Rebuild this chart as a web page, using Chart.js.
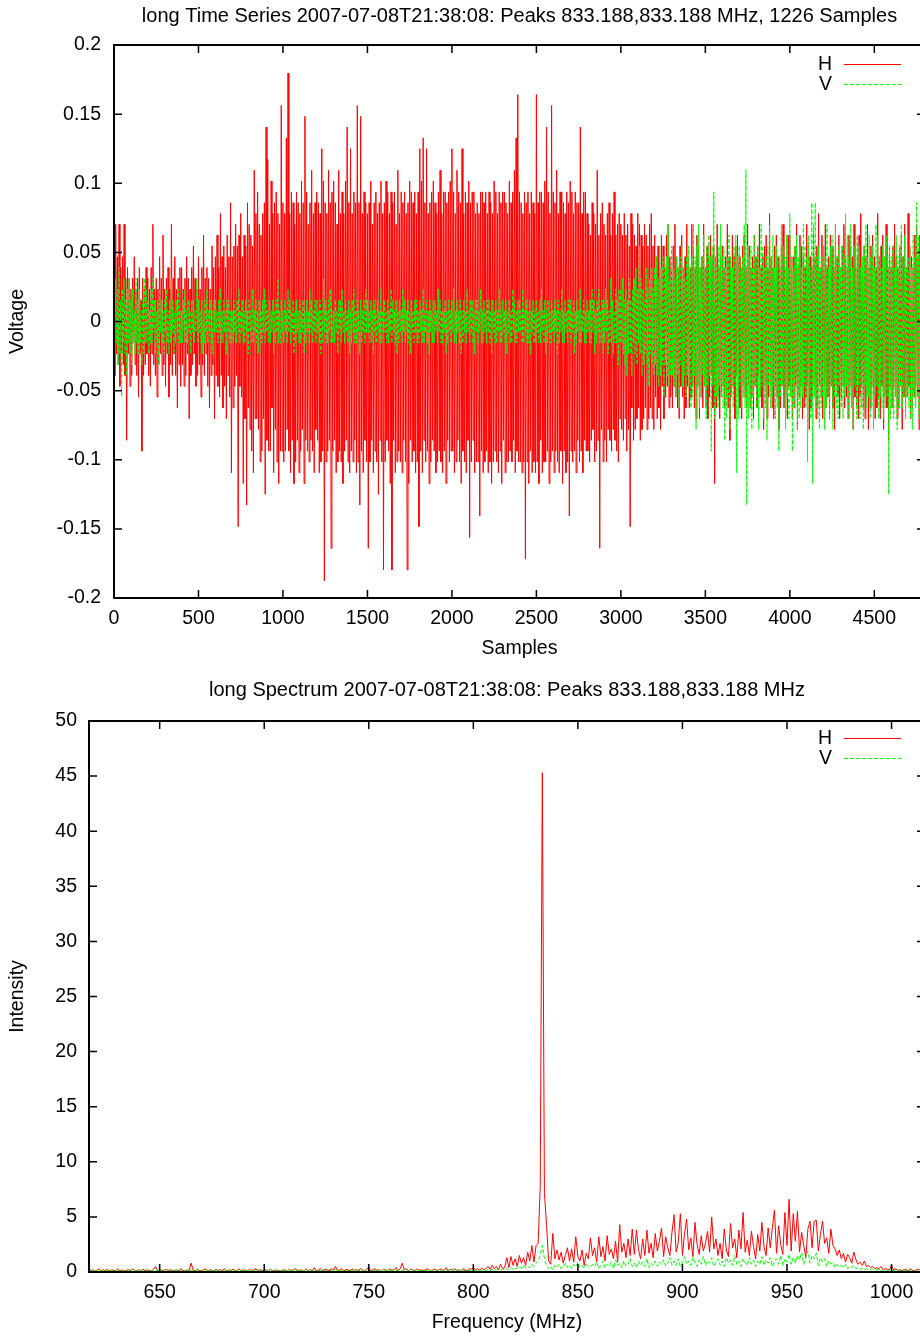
<!DOCTYPE html>
<html>
<head>
<meta charset="utf-8">
<script src="https://cdn.jsdelivr.net/npm/chart.js@4.4.1/dist/chart.umd.min.js"></script>
<style>
  html, body { margin: 0; padding: 0; background: #fff; overflow: hidden; }
  canvas { display: block; }
</style>
</head>
<body>
<canvas id="timeChart" width="926" height="665"></canvas>
<canvas id="specChart" width="926" height="672"></canvas>
<script>
// ---- time series (ADC counts, 1 count = 1/128 V), one value every 5 samples ----
var sampleStep = 5;
var voltsPerCount = 1 / 128;
var hCounts = [
  6,-5,9,-3,6,-4,9,-6,5,-3, 6,-4,9,-5,4,-11,5,-3,4,-6, 3,-5,4,-2,6,-4,3,-5,4,-7, 5,-3,2,-12,4,-5,3,-4,5,-3,
  4,-5,3,-6,5,-3,9,-4,3,-5, 4,-7,3,-4,6,-3,4,-5,8,-4, 3,-6,4,-3,5,-7,3,-4,9,-5, 4,-3,6,-5,3,-8,4,-4,5,-6,
  5,-4,3,-6,4,-5,6,-3,4,-9, 3,-5,5,-4,7,-3,4,-6,3,-5, 6,-4,3,-7,5,-4,8,-5,4,-3, 5,-6,4,-8,3,-5,7,-4,5,-9,
  6,-5,8,-6,5,-7,10,-5,6,-8, 7,-6,5,-9,8,-5,6,-7,11,-14, 6,-8,7,-6,9,-5,7,-19,8,-6, 10,-7,6,-15,8,-9,7,-17,11,-8,
  9,-10,8,-12,7,-14,14,-9,10,-9, 12,-10,9,-13,8,-12,10,-9,11,-16, 18,-11,15,-12,9,-12,13,-8,10,-14, 11,-10,12,-13,10,-15,9,-12,20,-12,
  11,-13,10,-12,17,-10,23,-12,10,-14, 12,-11,11,-15,9,-13,12,-11,11,-14, 10,-12,13,-10,11,-15,19,-11,12,-12, 9,-13,11,-11,14,-12,10,-14,11,-10,
  12,-11,11,-14,10,-13,16,-12,13,-24, 11,-13,10,-12,14,-11,11,-21,12,-12, 13,-11,11,-14,9,-13,14,-12,10,-13, 12,-15,10,-12,13,-11,18,-13,11,-14,
  16,-12,10,-13,12,-11,11,-14,20,-13, 11,-17,19,-12,10,-14,12,-11,11,-13, 10,-21,11,-13,13,-11,9,-14,11,-12, 12,-13,10,-16,11,-11,13,-13,10,-23,
  11,-13,13,-11,12,-12,10,-15,12,-23, 11,-11,12,-14,9,-13,14,-12,10,-13, 12,-14,11,-11,12,-13,10,-23,11,-15, 13,-11,12,-13,11,-12,12,-14,10,-13,
  12,-19,16,-12,13,-14,17,-11,11,-13, 16,-12,10,-15,11,-13,12,-11,13,-12, 11,-14,10,-13,12,-12,14,-13,10,-14, 12,-12,12,-15,11,-11,12,-13,13,-12,
  16,-12,12,-14,10,-13,14,-11,12,-13, 11,-15,16,-12,10,-13,12,-14,11,-11, 13,-20,11,-13,12,-11,12,-14,10,-13, 11,-13,10,-18,12,-12,12,-14,11,-13,
  12,-12,10,-14,12,-13,11,-15,10,-13, 13,-12,12,-13,10,-14,12,-12,11,-15, 12,-11,12,-14,11,-13,10,-13,13,-12, 11,-13,12,-11,14,-14,17,-12,21,-13,
  12,-13,11,-14,10,-13,12,-22,11,-13, 12,-15,10,-12,12,-14,11,-13,10,-14, 21,-13,11,-15,12,-11,12,-14,11,-13, 13,-13,18,-12,12,-15,10,-13,20,-12,
  12,-14,11,-12,14,-13,10,-14,12,-12, 12,-15,11,-12,10,-14,12,-13,11,-18, 13,-12,12,-13,10,-12,12,-14,11,-11, 11,-13,18,-12,10,-14,12,-11,12,-12,
  10,-12,9,-13,8,-11,11,-10,10,-13, 9,-12,14,-11,8,-21,10,-10,11,-13, 9,-11,8,-13,10,-10,11,-11,8,-12, 10,-10,12,-11,8,-12,9,-13,10,-9,
  9,-10,8,-11,10,-9,8,-12,9,-10, 7,-19,10,-8,9,-11,8,-10,7,-9, 10,-8,9,-11,8,-10,7,-9,9,-8, 8,-10,7,-9,9,-8,10,-9,7,-10,
  8,-7,6,-9,7,-8,5,-10,8,-6, 7,-9,5,-7,8,-6,9,-8,6,-7, 5,-8,7,-6,9,-7,6,-8,5,-9, 7,-6,8,-7,5,-9,6,-8,9,-6,
  6,-8,5,-7,9,-6,7,-8,5,-9, 8,-6,7,-9,5,-7,6,-8,9,-6, 5,-8,7,-9,6,-7,8,-5,6,-8, 7,-15,6,-8,9,-7,5,-9,6,-7,
  7,-6,5,-8,6,-7,9,-8,6,-11, 5,-7,8,-6,6,-9,7,-5,8,-7, 6,-8,5,-9,7,-6,8,-7,5,-8, 9,-6,7,-8,5,-7,6,-9,8,-6,
  6,-8,7,-5,9,-7,5,-8,6,-10, 7,-6,8,-9,5,-7,10,-6,6,-8, 5,-9,7,-6,8,-7,6,-10,5,-8, 7,-6,9,-8,5,-7,6,-9,8,-6,
  8,-7,5,-9,6,-8,7,-6,9,-10, 5,-7,8,-6,7,-9,6,-8,5,-7, 9,-6,7,-10,6,-8,5,-7,8,-6, 6,-9,7,-8,10,-6,5,-7,8,-9,
  7,-6,9,-8,5,-7,6,-9,8,-6, 7,-8,5,-10,9,-6,6,-7,8,-9, 5,-7,7,-6,9,-8,6,-7,5,-9, 8,-6,7,-8,6,-10,9,-7,5,-8,
  6,-9,8,-7,10,-6,5,-8,7,-9, 6,-7,9,-10,5,-8,7,-6,8,-7, 6,-9,5,-8,10,-7,6,-9,7,-6, 8,-10,6,-7,9,-8,5,-11,7,-6,
  5,-8,7,-6,9,-7,6,-9,5,-8, 7,-6,8,-10,6,-7,9,-8,5,-7, 10,-6,7,-9,6,-8,5,-7,8,-6, 9,-7,6,-10,8,-11,7,-6,9,-8
];
var vCounts = [
  2,-3,4,-2,3,-4,5,-3,2,-7, 3,-2,4,-3,2,-5,3,-2,4,-3, 2,-4,3,-2,1,-3,4,-2,2,-3, 3,-2,1,-4,2,-3,4,-2,3,-2,
  2,-3,1,-2,3,-2,4,-1,2,-3, 1,-2,2,-4,3,-1,2,-2,1,-3, 2,-1,3,-2,1,-3,2,-2,4,-1, 2,-3,1,-2,2,-1,3,-2,1,-2,
  1,-2,2,-1,3,-2,1,-2,2,-1, 1,-3,2,-1,2,-2,1,-1,4,-2, 2,-1,1,-2,2,-3,1,-2,2,-1, 3,-2,1,-1,2,-2,1,-3,2,-1,
  2,-1,1,-2,2,-1,3,-2,1,-2, 2,-1,1,-3,2,-1,2,-2,1,-2, 1,-2,2,-1,1,-2,2,-1,3,-2, 1,-1,2,-2,1,-2,2,-1,1,-3,
  2,-1,1,-2,3,-2,1,-1,2,-2, 1,-3,2,-1,1,-2,2,-1,3,-2, 2,-1,1,-2,2,-2,1,-1,2,-3, 1,-2,2,-1,4,-2,1,-2,2,-1,
  1,-2,2,-1,1,-2,3,-1,2,-2, 1,-1,2,-3,1,-2,2,-1,1,-2, 2,-2,1,-1,2,-3,1,-2,2,-1, 1,-2,3,-1,2,-2,1,-1,2,-2,
  2,-1,1,-2,2,-3,1,-2,4,-1, 2,-2,1,-2,2,-1,3,-2,1,-2, 1,-2,2,-1,1,-3,2,-1,2,-2, 3,-1,1,-2,2,-1,1,-2,2,-3,
  1,-2,2,-1,3,-2,1,-2,2,-1, 1,-3,2,-2,1,-1,2,-2,3,-1, 2,-1,1,-2,2,-2,1,-3,2,-1, 1,-2,2,-1,1,-2,3,-2,1,-1,
  2,-1,1,-2,2,-2,1,-1,3,-2, 2,-1,1,-2,2,-3,1,-2,2,-1, 1,-2,3,-1,2,-2,1,-1,2,-2, 1,-3,2,-1,1,-2,2,-1,2,-2,
  1,-2,2,-1,1,-2,3,-2,1,-1, 2,-2,1,-3,2,-1,1,-2,2,-2, 2,-1,1,-2,3,-1,2,-2,1,-2, 1,-1,2,-3,1,-2,2,-1,1,-2,
  2,-1,3,-2,1,-2,2,-1,1,-2, 2,-3,1,-2,2,-1,1,-2,3,-1, 1,-2,2,-1,2,-2,1,-3,2,-1, 2,-2,1,-1,3,-2,1,-2,2,-1,
  1,-2,2,-1,2,-2,1,-3,2,-1, 1,-2,2,-2,1,-1,3,-2,1,-2, 2,-1,1,-2,2,-3,1,-1,2,-2, 1,-2,3,-1,2,-2,1,-2,2,-1,
  2,-1,1,-2,3,-2,1,-1,2,-2, 1,-2,2,-3,1,-1,2,-2,1,-2, 2,-1,1,-2,2,-2,3,-1,1,-2, 2,-3,1,-2,2,-1,1,-2,2,-1,
  1,-2,2,-1,1,-3,2,-2,1,-1, 3,-2,1,-2,2,-1,1,-2,2,-1, 2,-2,1,-1,2,-3,1,-2,2,-1, 1,-2,3,-2,1,-1,2,-2,1,-2,
  2,-1,1,-2,2,-2,3,-1,2,-3, 1,-2,2,-1,3,-2,1,-2,2,-3, 2,-2,3,-1,2,-3,1,-2,4,-2, 2,-3,1,-2,3,-2,2,-4,3,-2,
  3,-2,4,-3,2,-4,3,-5,2,-3, 4,-3,2,-5,3,-2,4,-3,5,-4, 3,-2,7,-3,4,-5,3,-4,2,-3, 5,-4,3,-6,4,-3,5,-4,3,-5,
  5,-4,6,-5,4,-6,7,-5,5,-4, 6,-7,5,-4,6,-5,9,-6,4,-5, 7,-5,5,-6,4,-7,6,-5,5,-8, 6,-4,7,-6,5,-5,4,-7,6,-5,
  7,-6,5,-8,6,-7,9,-5,6,-10, 7,-6,9,-8,5,-7,6,-5,8,-6, 5,-9,7,-6,8,-5,6,-12,7,-6, 12,-9,6,-7,5,-8,7,-6,9,-7,
  6,-8,7,-11,5,-9,6,-7,8,-10, 6,-7,5,-8,7,-6,8,-14,6,-9, 7,-6,5,-8,6,-7,9,-8,14,-17, 7,-9,6,-8,7,-10,5,-7,8,-6,
  6,-8,7,-10,5,-7,9,-6,7,-9, 5,-8,6,-11,7,-6,9,-8,6,-7, 8,-6,5,-9,7,-8,6,-12,5,-7, 9,-6,7,-8,6,-10,8,-7,5,-9,
  10,-7,6,-12,5,-8,7,-6,8,-10, 6,-9,7,-8,5,-7,9,-6,7,-8, 6,-13,8,-7,5,-9,11,-15,9,-7, 11,-8,6,-9,7,-10,5,-8,6,-7,
  7,-10,6,-8,9,-7,5,-9,7,-6, 8,-10,6,-7,9,-8,6,-9,7,-6, 5,-8,7,-9,6,-7,10,-6,8,-9, 6,-7,9,-8,5,-10,7,-6,8,-9,
  8,-6,7,-9,5,-8,6,-10,7,-6, 9,-8,6,-7,8,-9,6,-8,7,-10, 5,-7,9,-6,8,-9,6,-7,5,-8, 7,-9,6,-8,8,-7,6,-16,7,-9,
  6,-8,7,-9,5,-7,8,-10,6,-8, 7,-6,9,-8,6,-7,8,-9,5,-7, 6,-8,7,-9,5,-10,8,-7,6,-8, 11,-7,8,-9,6,-8,7,-6,9,-8
];
var sampleTicks = [0, 500, 1000, 1500, 2000, 2500, 3000, 3500, 4000, 4500];
var voltTicks = [-0.2, -0.15, -0.1, -0.05, 0, 0.05, 0.1, 0.15, 0.2];

// ---- spectrum, one value per MHz starting at 616 MHz ----
var freqStart = 616;
var freqStep = 1;
var hSpectrum = [
  0.3,0.1,0.2,0.1,0.15,0.3,0.1,0.2,0.1,0.25,0.1,0.2,0.15,0.1,0.3,0.1,0.2,0.1,0.15,0.2,
  0.1,0.3,0.15,0.1,0.2,0.1,0.25,0.1,0.2,0.15,0.1,0.2,0.5,0.1,0.2,0.15,0.1,0.25,0.1,0.2,
  0.15,0.1,0.2,0.1,0.3,0.15,0.1,0.2,0.1,0.8,0.2,0.1,0.25,0.15,0.1,0.2,0.3,0.1,0.2,0.15,
  0.1,0.25,0.1,0.2,0.15,0.3,0.1,0.2,0.1,0.25,0.15,0.1,0.3,0.1,0.2,0.15,0.1,0.25,0.1,0.2,
  0.3,0.1,0.2,0.15,0.1,0.2,0.1,0.25,0.1,0.15,0.2,0.1,0.1,0.2,0.15,0.1,0.25,0.1,0.2,0.3,
  0.1,0.2,0.15,0.1,0.3,0.1,0.2,0.15,0.4,0.1,0.2,0.3,0.1,0.25,0.2,0.1,0.3,0.15,0.5,0.2,
  0.15,0.3,0.1,0.2,0.25,0.1,0.3,0.15,0.2,0.1,0.3,0.2,0.1,0.25,0.45,0.1,0.2,0.3,0.15,0.2,
  0.1,0.25,0.2,0.1,0.3,0.15,0.2,0.4,0.1,0.3,0.8,0.2,0.3,0.1,0.25,0.2,0.1,0.3,0.15,0.2,
  0.1,0.2,0.3,0.15,0.1,0.25,0.2,0.1,0.3,0.2,0.15,0.4,0.1,0.25,0.2,0.3,0.15,0.2,0.1,0.3,
  0.2,0.1,0.3,0.25,0.4,0.2,0.3,0.15,0.35,0.2,0.3,0.5,0.25,0.6,0.3,0.5,0.2,0.7,0.3,0.4,
  1.3,0.4,1.4,0.6,1.2,0.5,1.5,0.8,1.3,0.6,1.8,1.0,2.4,0.9,2.4,2.6,7.8,45.3,7.2,4.3,
  1.0,0.7,3.5,1.2,2.0,1.1,1.8,0.8,1.5,2.2,1.0,2.1,0.9,3.2,1.4,1.0,2.0,0.6,1.7,1.2,
  3.1,1.5,2.2,0.9,3.2,1.4,2.3,1.0,3.3,1.6,2.1,1.2,2.8,0.9,4.3,1.8,2.6,1.3,3.0,1.5,
  3.9,1.6,3.8,2.0,1.2,3.0,1.5,3.8,1.7,2.6,1.3,3.5,1.9,2.8,4.0,1.4,3.2,2.2,1.5,3.6,
  5.2,1.8,2.7,5.3,1.5,3.5,4.8,2.0,3.1,1.4,4.5,2.5,1.6,3.3,1.9,2.6,3.7,1.8,5.0,2.1,
  3.0,1.5,2.6,1.2,3.9,2.0,1.4,4.4,2.2,3.0,1.3,3.8,2.1,5.4,1.8,2.9,1.5,3.7,2.3,1.2,
  3.4,1.9,4.5,2.3,1.5,4.0,2.2,4.0,5.6,1.7,4.2,2.5,1.6,5.4,2.4,6.6,1.9,5.3,2.8,5.5,
  1.8,3.6,2.4,1.3,3.9,4.6,2.2,4.6,4.7,1.9,3.4,4.6,2.6,3.1,1.7,3.9,2.4,2.1,1.5,2.0,
  1.2,1.7,0.9,1.6,1.3,0.8,1.8,1.1,0.7,0.9,0.6,1.0,0.5,0.6,0.4,0.5,0.3,0.4,0.3,0.5,
  0.2,0.3,0.25,0.2,0.6,0.2,0.3,0.15,0.2,0.1,0.25,0.2,0.1,0.3,0.15,0.1,0.2,0.25,0.1,0.2
];
var vSpectrum = [
  0.1,0.2,0.1,0.15,0.1,0.2,0.1,0.1,0.2,0.1,0.15,0.1,0.2,0.1,0.1,0.15,0.2,0.1,0.1,0.15,
  0.2,0.1,0.1,0.15,0.2,0.1,0.1,0.2,0.1,0.15,0.1,0.2,0.1,0.1,0.15,0.2,0.1,0.1,0.2,0.1,
  0.1,0.15,0.2,0.1,0.1,0.2,0.1,0.15,0.1,0.2,0.1,0.1,0.2,0.15,0.1,0.1,0.2,0.1,0.15,0.1,
  0.15,0.1,0.2,0.1,0.1,0.2,0.15,0.1,0.2,0.1,0.1,0.15,0.2,0.1,0.1,0.2,0.1,0.15,0.2,0.1,
  0.1,0.2,0.1,0.15,0.2,0.1,0.1,0.2,0.15,0.1,0.2,0.1,0.15,0.1,0.2,0.1,0.1,0.2,0.1,0.15,
  0.2,0.1,0.15,0.1,0.2,0.1,0.2,0.15,0.1,0.2,0.1,0.15,0.2,0.1,0.1,0.25,0.1,0.15,0.2,0.1,
  0.1,0.2,0.15,0.1,0.2,0.1,0.15,0.2,0.1,0.2,0.1,0.15,0.1,0.2,0.15,0.1,0.2,0.1,0.15,0.2,
  0.1,0.15,0.2,0.1,0.1,0.2,0.15,0.1,0.2,0.1,0.15,0.2,0.1,0.1,0.2,0.15,0.1,0.2,0.1,0.15,
  0.2,0.1,0.15,0.2,0.1,0.1,0.2,0.15,0.1,0.2,0.1,0.15,0.2,0.1,0.2,0.15,0.1,0.2,0.1,0.2,
  0.1,0.2,0.15,0.1,0.2,0.15,0.1,0.2,0.1,0.2,0.15,0.2,0.1,0.25,0.15,0.2,0.3,0.15,0.25,0.2,
  0.3,0.2,0.4,0.25,0.35,0.3,0.5,0.3,0.6,0.35,0.5,0.4,0.7,0.5,0.8,1.0,1.5,2.4,1.2,0.6,
  0.3,0.5,0.2,0.6,0.4,0.7,0.3,0.5,0.8,0.4,0.6,0.3,0.7,0.5,0.9,0.4,0.6,0.3,0.8,0.5,
  0.4,0.7,0.5,0.9,0.3,0.6,1.0,0.4,0.7,0.5,0.9,0.3,1.1,0.6,0.8,0.4,1.0,0.5,0.7,1.2,
  0.5,0.8,0.4,1.0,0.6,0.9,0.5,1.2,0.4,0.8,0.6,1.0,0.5,0.9,0.7,1.1,0.5,0.8,1.3,0.6,
  1.0,0.6,1.2,0.5,0.9,1.4,0.7,1.0,0.6,1.3,0.8,0.5,1.1,0.7,1.4,0.6,1.0,0.8,1.3,0.5,
  0.9,1.2,0.6,1.0,0.5,1.3,0.8,1.1,0.6,1.5,0.7,1.0,0.5,1.2,0.9,0.6,1.3,0.7,1.1,0.5,
  1.0,0.7,1.4,0.6,1.1,0.8,1.3,0.5,1.0,1.2,0.7,1.5,0.6,1.2,0.9,1.6,0.7,1.3,0.8,1.5,
  1.1,1.8,0.7,1.4,1.9,0.8,1.5,1.2,1.7,0.6,1.3,0.9,1.2,0.5,1.0,0.7,0.9,0.4,0.7,0.5,
  0.6,0.4,0.7,0.3,0.5,0.4,0.6,0.3,0.4,0.25,0.35,0.2,0.3,0.25,0.2,0.3,0.15,0.2,0.25,0.1,
  0.2,0.15,0.1,0.2,0.15,0.1,0.2,0.1,0.15,0.1,0.2,0.1,0.1,0.15,0.2,0.1,0.1,0.15,0.1,0.2
];
var freqTicks = [650, 700, 750, 800, 850, 900, 950, 1000];
var intensityTicks = [0, 5, 10, 15, 20, 25, 30, 35, 40, 45, 50];

Chart.defaults.font.family = '"Liberation Sans", Arial, Helvetica, sans-serif';
Chart.defaults.font.size = 19.5;
Chart.defaults.color = '#000';

// gnuplot style: border box with inward ticks on all four sides
var framePlugin = {
  id: 'frame',
  afterDatasetsDraw: function (chart) {
    var ctx = chart.ctx, a = chart.chartArea;
    var xs = chart.scales.x, ys = chart.scales.y;
    ctx.save();
    ctx.strokeStyle = '#000';
    ctx.lineWidth = 1.5;
    ctx.beginPath();
    xs.ticks.forEach(function (t) {
      var px = xs.getPixelForValue(t.value);
      ctx.moveTo(px, a.bottom); ctx.lineTo(px, a.bottom - 8);
      ctx.moveTo(px, a.top); ctx.lineTo(px, a.top + 8);
    });
    ys.ticks.forEach(function (t) {
      var py = ys.getPixelForValue(t.value);
      ctx.moveTo(a.left, py); ctx.lineTo(a.left + 8, py);
      ctx.moveTo(a.right, py); ctx.lineTo(a.right - 8, py);
    });
    ctx.stroke();
    ctx.lineWidth = 2;
    ctx.strokeRect(a.left, a.top, a.right - a.left, a.bottom - a.top);
    ctx.restore();
  }
};

// key in the top right corner: label, then a sample of the line
var keyPlugin = {
  id: 'key',
  afterDraw: function (chart, args, opts) {
    var ctx = chart.ctx, a = chart.chartArea;
    ctx.save();
    ctx.font = '19.5px "Liberation Sans", Arial, sans-serif';
    ctx.textAlign = 'right';
    ctx.textBaseline = 'middle';
    chart.data.datasets.forEach(function (ds, i) {
      var y = Math.round(a.top + opts.top + i * opts.gap) + 0.5;
      ctx.fillStyle = '#000';
      ctx.fillText(ds.label, a.right - 93, y);
      ctx.strokeStyle = ds.borderColor;
      ctx.lineWidth = 1;
      ctx.setLineDash(ds.borderDash || []);
      ctx.beginPath();
      ctx.moveTo(a.right - 81, y);
      ctx.lineTo(a.right - 24, y);
      ctx.stroke();
    });
    ctx.restore();
  }
};

function fixedTicks(list) {
  return function (scale) {
    scale.ticks = list.map(function (v) { return { value: v }; });
  };
}

function tickLabel(v) {
  return String(Math.round(v * 100) / 100);
}

var timeH = hCounts.map(function (c, i) { return { x: i * sampleStep, y: c * voltsPerCount }; });
var timeV = vCounts.map(function (c, i) { return { x: i * sampleStep, y: c * voltsPerCount }; });

new Chart(document.getElementById('timeChart'), {
  type: 'line',
  data: {
    datasets: [
      { label: 'H', data: timeH, borderColor: '#ff0000', borderWidth: 1, pointRadius: 0, tension: 0, fill: false, order: 1 },
      { label: 'V', data: timeV, borderColor: '#00ff00', borderWidth: 1, borderDash: [4, 2], pointRadius: 0, tension: 0, fill: false, order: 0 }
    ]
  },
  options: {
    responsive: false,
    animation: false,
    layout: { padding: { left: 0, right: 1, top: 0, bottom: 0 } },
    plugins: {
      legend: { display: false },
      tooltip: { enabled: false },
      title: {
        display: true,
        fullSize: false,
        text: 'long Time Series 2007-07-08T21:38:08: Peaks 833.188,833.188 MHz, 1226 Samples',
        font: { size: 20, weight: 'normal' },
        color: '#000',
        padding: { top: 4, bottom: 17 }
      },
      key: { top: 19, gap: 20 }
    },
    scales: {
      x: {
        type: 'linear', min: 0, max: 4800,
        grid: { display: false, drawTicks: false },
        border: { display: false },
        afterBuildTicks: fixedTicks(sampleTicks),
        ticks: { padding: 9, maxRotation: 0, autoSkip: false, callback: tickLabel },
        title: { display: true, text: 'Samples', padding: { top: 0, bottom: 5 } },
        afterFit: function (s) { s.height = 67; }
      },
      y: {
        type: 'linear', min: -0.2, max: 0.2,
        grid: { display: false, drawTicks: false },
        border: { display: false },
        afterBuildTicks: fixedTicks(voltTicks),
        ticks: { padding: 13, callback: tickLabel },
        title: { display: true, text: 'Voltage', padding: { top: 6, bottom: 0 } },
        afterFit: function (s) { s.width = 114; }
      }
    }
  },
  plugins: [framePlugin, keyPlugin]
});

var specH = hSpectrum.map(function (v, i) { return { x: freqStart + i * freqStep, y: v }; });
var specV = vSpectrum.map(function (v, i) { return { x: freqStart + i * freqStep, y: v }; });

new Chart(document.getElementById('specChart'), {
  type: 'line',
  data: {
    datasets: [
      { label: 'H', data: specH, borderColor: '#ff0000', borderWidth: 1, pointRadius: 0, tension: 0, fill: false, order: 1 },
      { label: 'V', data: specV, borderColor: '#00ff00', borderWidth: 1, borderDash: [4, 2], pointRadius: 0, tension: 0, fill: false, order: 0 }
    ]
  },
  options: {
    responsive: false,
    animation: false,
    layout: { padding: { left: 0, right: 1, top: 0, bottom: 0 } },
    plugins: {
      legend: { display: false },
      tooltip: { enabled: false },
      title: {
        display: true,
        fullSize: false,
        text: 'long Spectrum 2007-07-08T21:38:08: Peaks 833.188,833.188 MHz',
        font: { size: 20, weight: 'normal' },
        color: '#000',
        padding: { top: 13, bottom: 19 }
      },
      key: { top: 17, gap: 19.5 }
    },
    scales: {
      x: {
        type: 'linear', min: 616.2, max: 1016,
        grid: { display: false, drawTicks: false },
        border: { display: false },
        afterBuildTicks: fixedTicks(freqTicks),
        ticks: { padding: 9, maxRotation: 0, autoSkip: false, callback: tickLabel },
        title: { display: true, text: 'Frequency (MHz)', padding: { top: 0, bottom: 3 } },
        afterFit: function (s) { s.height = 65; }
      },
      y: {
        type: 'linear', min: 0, max: 50,
        grid: { display: false, drawTicks: false },
        border: { display: false },
        afterBuildTicks: fixedTicks(intensityTicks),
        ticks: { padding: 12, callback: tickLabel },
        title: { display: true, text: 'Intensity', padding: { top: 6, bottom: 0 } },
        afterFit: function (s) { s.width = 89; }
      }
    }
  },
  plugins: [framePlugin, keyPlugin]
});
</script>
</body>
</html>
